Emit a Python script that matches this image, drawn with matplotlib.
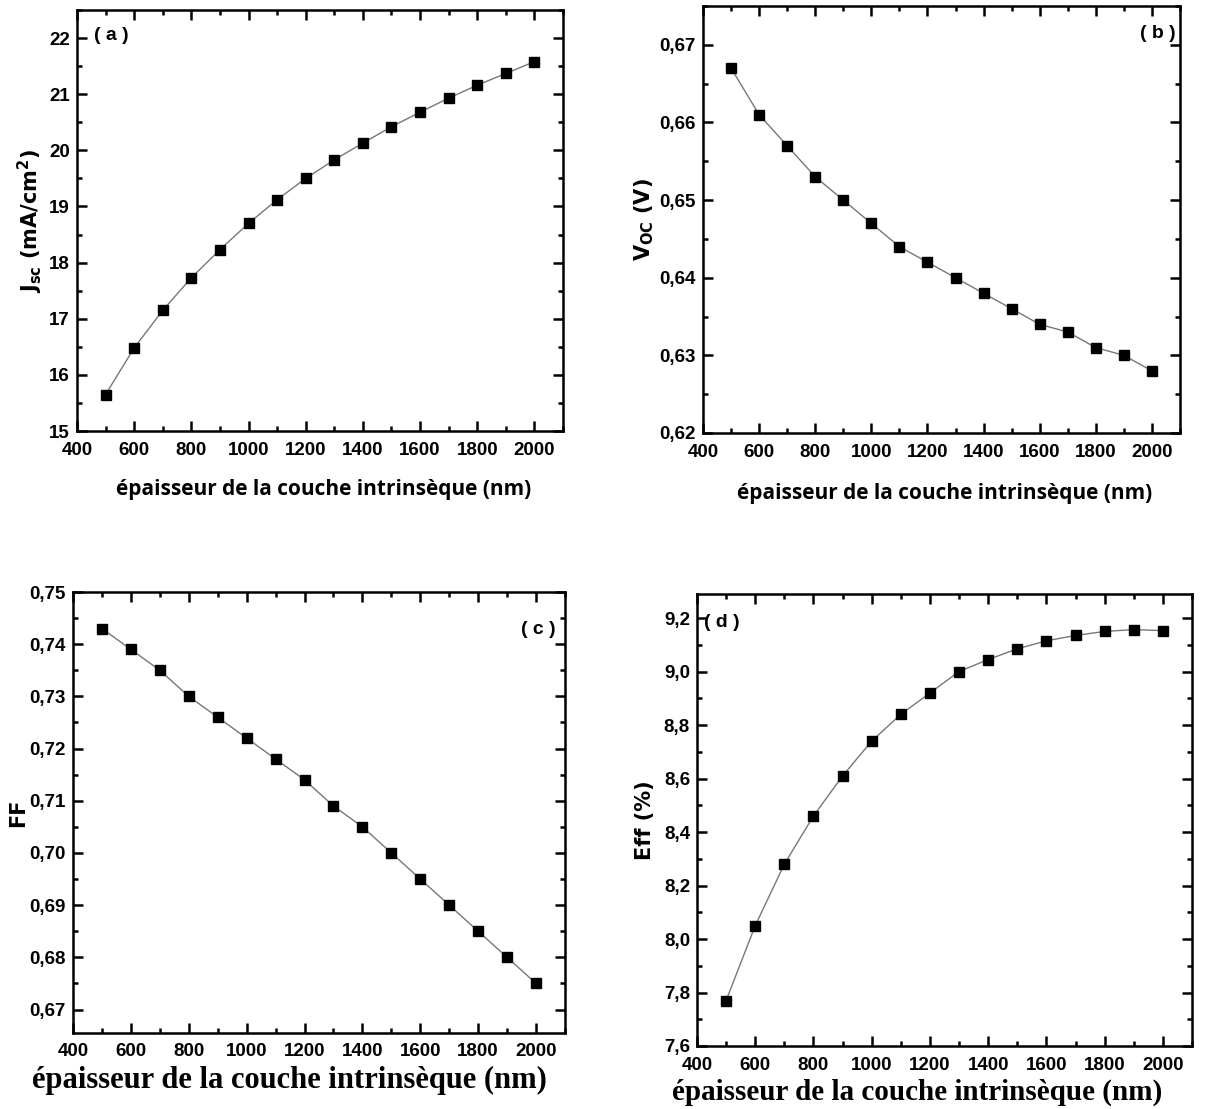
import matplotlib
matplotlib.use("Agg")
import matplotlib.pyplot as plt
from matplotlib.ticker import MultipleLocator, FuncFormatter

thickness = [500, 600, 700, 800, 900, 1000, 1100, 1200, 1300, 1400, 1500, 1600, 1700, 1800, 1900, 2000]
jsc = [15.65, 16.48, 17.15, 17.73, 18.23, 18.70, 19.12, 19.50, 19.83, 20.13, 20.42, 20.68, 20.93, 21.16, 21.37, 21.58]
voc = [0.667, 0.661, 0.657, 0.653, 0.650, 0.647, 0.644, 0.642, 0.640, 0.638, 0.636, 0.634, 0.633, 0.631, 0.630, 0.628]
ff = [0.743, 0.739, 0.735, 0.730, 0.726, 0.722, 0.718, 0.714, 0.709, 0.705, 0.700, 0.695, 0.690, 0.685, 0.680, 0.675]
eff = [7.77, 8.05, 8.28, 8.46, 8.61, 8.74, 8.84, 8.92, 9.00, 9.045, 9.085, 9.115, 9.135, 9.15, 9.157, 9.153]

xlabel_text = "épaisseur de la couche intrinsèque (nm)"

W, H = 1221, 1109
fig = plt.figure(figsize=(W / 100, H / 100), dpi=100)

def rect(l, r, t, b):
    return [l / W, 1 - b / H, (r - l) / W, (b - t) / H]

narrow = ["Liberation Sans Narrow", "Liberation Sans", "DejaVu Sans"]

def style(ax, ylim, ymaj, ymin, yfmt, xpad=8):
    ax.set_xlim(400, 2100)
    ax.set_ylim(*ylim)
    ax.xaxis.set_major_locator(MultipleLocator(200))
    ax.xaxis.set_minor_locator(MultipleLocator(100))
    ax.yaxis.set_major_locator(MultipleLocator(ymaj))
    ax.yaxis.set_minor_locator(MultipleLocator(ymin))
    ax.yaxis.set_major_formatter(FuncFormatter(lambda v, p: (yfmt % v).replace(".", ",")))
    ax.tick_params(which="both", direction="in", top=True, right=True, width=1.8)
    ax.tick_params(which="major", length=7)
    ax.tick_params(axis="x", which="major", pad=xpad)
    ax.tick_params(axis="y", which="major", pad=5)
    ax.tick_params(which="minor", length=3.5)
    for s in ax.spines.values():
        s.set_linewidth(1.8)
    for lab in ax.get_xticklabels() + ax.get_yticklabels():
        lab.set_fontfamily(narrow)
        lab.set_fontweight("bold")
        lab.set_fontsize(13.5)

def draw(ax, y):
    ax.plot(thickness, y, color="#777777", lw=1.0, marker="s", ms=7.5,
            mfc="black", mec="black", zorder=3)

# (a)
axa = fig.add_axes(rect(77, 563, 10, 431))
draw(axa, jsc)
style(axa, (15, 22.5), 1, 0.5, "%g")
axa.set_ylabel(r"$\mathbf{J_{sc}}$ (mA/cm$^\mathbf{2}$)", fontsize=15, fontweight="bold",
               family="DejaVu Sans", labelpad=3)
axa.text(0.035, 0.96, "( a )", transform=axa.transAxes, fontsize=14, fontweight="bold",
         family=narrow, va="top", ha="left")
fig.text(324 / W, 1 - 490 / H, xlabel_text, ha="center", va="center", fontsize=15,
         fontweight="bold", family="Open Sans")

# (b)
axb = fig.add_axes(rect(703, 1180, 6, 433))
draw(axb, voc)
style(axb, (0.62, 0.675), 0.01, 0.005, "%.2f")
axb.set_ylabel(r"$\mathbf{V_{OC}}$ (V)", fontsize=15, fontweight="bold",
               family="DejaVu Sans", labelpad=3)
axb.text(0.99, 0.955, "( b )", transform=axb.transAxes, fontsize=14, fontweight="bold",
         family=narrow, va="top", ha="right")
fig.text(945 / W, 1 - 493 / H, xlabel_text, ha="center", va="center", fontsize=15,
         fontweight="bold", family="Open Sans")

# (c)
axc = fig.add_axes(rect(73, 565, 592, 1033))
draw(axc, ff)
style(axc, (0.6655, 0.75), 0.01, 0.005, "%.2f", xpad=7)
axc.set_ylabel("FF", fontsize=15, fontweight="bold", family="DejaVu Sans", labelpad=1)
axc.text(0.98, 0.935, "( c )", transform=axc.transAxes, fontsize=14, fontweight="bold",
         family=narrow, va="top", ha="right")
fig.text(289 / W, 1 - 1080 / H, xlabel_text, ha="center", va="center", fontsize=22,
         fontweight="bold", family="Liberation Serif")

# (d)
axd = fig.add_axes(rect(697, 1192, 594, 1046))
draw(axd, eff)
style(axd, (7.6, 9.29), 0.2, 0.1, "%.1f", xpad=8)
axd.set_ylabel("Eff (%)", fontsize=15, fontweight="bold", family="DejaVu Sans", labelpad=6)
axd.text(0.015, 0.955, "( d )", transform=axd.transAxes, fontsize=14, fontweight="bold",
         family=narrow, va="top", ha="left")
fig.text(917 / W, 1 - 1092 / H, xlabel_text, ha="center", va="center", fontsize=21,
         fontweight="bold", family="Liberation Serif")

fig.savefig("out.png", dpi=100)
